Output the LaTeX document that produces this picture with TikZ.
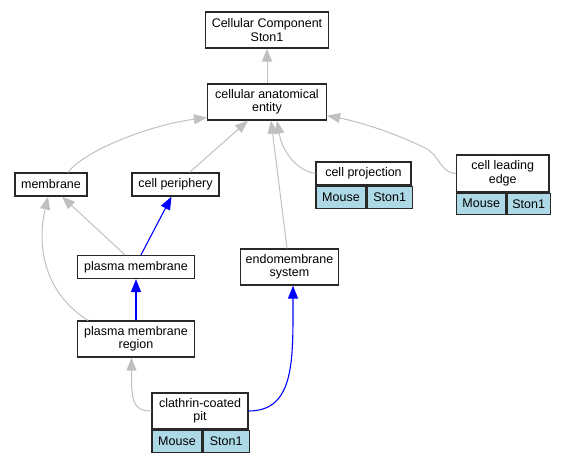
\documentclass[tikz,border=0pt]{standalone}
\usepackage{fontspec}
\setmainfont{Liberation Sans}
\usetikzlibrary{arrows.meta,positioning}

\definecolor{edgegray}{RGB}{192,192,192}
\definecolor{taxonblue}{RGB}{173,216,230}
\definecolor{boxline}{RGB}{40,40,40}

\tikzstyle{term} = [rectangle, minimum height=23pt,
                    inner sep=0pt,
                    align=center,
                    fill=white,
                    draw=boxline,
                    line width=1.2pt,
                    font=\fontsize{12.5}{13.5}\selectfont]
\tikzstyle{twoline} = [minimum height=36pt]
\tikzstyle{taxon} = [rectangle, minimum height=22pt,
                     inner sep=0pt,
                     fill=taxonblue,
                     draw=boxline,
                     line width=1.2pt,
                     font=\fontsize{12.5}{13.5}\selectfont]
\tikzstyle{isa} = [draw=edgegray, line width=1pt,
                   -{Triangle[length=13pt, width=10pt]}]
\tikzstyle{partof} = [draw=blue, line width=1.1pt,
                      -{Triangle[length=13pt, width=10pt]}]

\begin{document}
\begin{tikzpicture}[x=1pt, y=-1pt, node distance=72pt]

  \useasboundingbox (0,0) rectangle (563,461);

  \node (root) [term, twoline, minimum width=123pt] at (267,30) {Cellular Component\\Ston1};

  \node (cae) [term, twoline, minimum width=119pt, below of=root] {cellular anatomical\\entity};

  \node (membrane) [term, minimum width=72pt] at (51,184.5) {membrane};

  \node (periphery) [term, minimum width=87pt] at (175.5,184.5) {cell periphery};

  % cell projection with its taxon row
  \node (cp) [term, minimum width=95pt] at (363.5,173.5) {cell projection};
  \node (cp-mouse) [taxon, minimum width=50pt, below right=0pt and 0pt of cp.south west] {Mouse};
  \node (cp-ston) [taxon, minimum width=45pt, right=0pt of cp-mouse] {Ston1};

  % cell leading edge with its taxon row
  \node (cle) [term, minimum width=92.5pt, minimum height=37pt] at (502.75,173.5) {cell leading\\edge};
  \node (cle-mouse) [taxon, minimum width=49.5pt, minimum height=21pt, below right=0pt and 0pt of cle.south west] {Mouse};
  \node (cle-ston) [taxon, minimum width=43pt, minimum height=21pt, right=0pt of cle-mouse] {Ston1};

  \node (pm) [term, minimum width=117pt] at (136,267) {plasma membrane};

  \node (endo) [term, twoline, minimum width=98.5pt] at (289.5,267) {endomembrane\\system};

  \node (pmr) [term, twoline, minimum width=117pt, below of=pm] {plasma membrane\\region};

  % clathrin-coated pit with its taxon row
  \node (ccp) [term, twoline, minimum width=96pt] at (200,411) {clathrin-coated\\pit};
  \node (ccp-mouse) [taxon, minimum width=50pt, below right=0pt and 0pt of ccp.south west] {Mouse};
  \node (ccp-ston) [taxon, minimum width=46pt, right=0pt of ccp-mouse] {Ston1};

  \draw[isa] (cae) to (root);
  \draw[isa] ([xshift=17pt]membrane.north) .. controls (85,150) and (150,125) .. ([yshift=3pt]cae.south west);
  \draw[isa] ([xshift=14pt]periphery.north) to ([xshift=-19pt]cae.south);
  \draw[isa] ([xshift=-2.5pt]endo.north) to ([xshift=4pt]cae.south);
  \draw[isa] (cp.west) .. controls (295,170) and (282,150) .. ([xshift=10pt]cae.south);
  \draw[isa] (cle.west) .. controls (440,173) and (440,155) .. (425,148)
             .. controls (395,133) and (360,122) .. ([yshift=5pt]cae.south east);

  \draw[isa] ([xshift=-11pt]pm.north) to ([xshift=11pt]membrane.south);
  \draw[partof] ([xshift=5pt]pm.north) to ([xshift=-4pt]periphery.south);

  \draw[isa] ([xshift=-48pt]pmr.north) .. controls (40,290) and (38,240) .. ([xshift=-3pt]membrane.south);
  \draw[partof] (pmr) to (pm);

  \draw[isa] (ccp.west) .. controls (132,411) and (131.5,400) .. ([xshift=-4.5pt]pmr.south);
  \draw[partof] (ccp.east) .. controls (295,411) and (293,360) .. ([xshift=3.5pt]endo.south);

\end{tikzpicture}
\end{document}
